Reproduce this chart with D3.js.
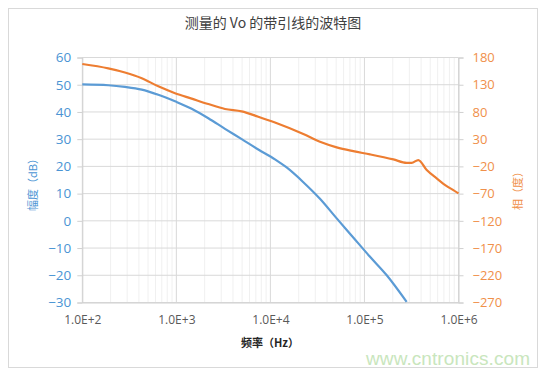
<!DOCTYPE html>
<html><head><meta charset="utf-8">
<script src="https://cdn.jsdelivr.net/npm/d3@7"></script>
<style>body{margin:0;background:#fff}svg{display:block}</style>
</head><body>
<svg id="c" width="550" height="375"></svg>
<script>
const title = "测量的 Vo 的带引线的波特图";
const xTitle = "频率（Hz）";
const yLeftTitle = "幅度（dB）";
const yRightTitle = "相（度）";
const xTickValues = [1e2, 1e3, 1e4, 1e5, 1e6];
const xTickLabels = ["1.0E+2", "1.0E+3", "1.0E+4", "1.0E+5", "1.0E+6"];
const magTicks = [60, 50, 40, 30, 20, 10, 0, -10, -20, -30];
const phaseTicks = [180, 130, 80, 30, -20, -70, -120, -170, -220, -270];

const magFreq = [100, 189, 284, 429, 643, 968, 1455, 2188, 3289, 4955, 7430, 11190, 14890, 22390, 33650, 50700, 76000, 114600, 172600, 281200];
const magDb   = [50.1, 49.8, 49.2, 48.2, 46.3, 43.9, 41.2, 37.7, 33.8, 30.0, 26.2, 22.6, 19.6, 14.2, 8.1, 0.9, -6.1, -13.2, -20.0, -29.8];

const phFreq = [100, 189, 284, 429, 643, 968, 1455, 2188, 3289, 4955, 7430, 11190, 22390, 33650, 50700, 76000, 114600, 202800, 281200, 317700, 373900, 459300, 586400, 749300, 881600, 1000000];
const phDeg  = [168, 160, 152.5, 142, 127, 114.5, 104.5, 94.5, 85.5, 81, 71.2, 60.5, 39.4, 25.2, 15, 8, 2, -7.2, -13.4, -13.4, -8.4, -26.8, -42, -56.2, -63.5, -69.7];

const blue = "#5B9BD5", orange = "#ED7D31";
const svg = d3.select("#c");
const L = 82.3, R = 458.5, T = 57.5, B = 302.5;
const x = d3.scaleLog().domain([1e2, 1e6]).range([L, R]);
const yM = d3.scaleLinear().domain([-30, 60]).range([B, T]);
const yP = d3.scaleLinear().domain([-270, 180]).range([B, T]);

svg.append("rect").attr("x", 8.5).attr("y", 8.5).attr("width", 529).attr("height", 359)
  .attr("fill", "#fff").attr("stroke", "#d9d9d9");

// minor vertical grid
const minor = [];
for (let d = 2; d < 6; d++) for (let m = 2; m <= 9; m++) minor.push(m * Math.pow(10, d));
svg.append("g").selectAll("line").data(minor).join("line")
  .attr("x1", d => x(d)).attr("x2", d => x(d)).attr("y1", T).attr("y2", B)
  .attr("stroke", "#f0f0f0").attr("stroke-width", 1);
// major vertical grid
svg.append("g").selectAll("line").data(xTickValues).join("line")
  .attr("x1", d => x(d)).attr("x2", d => x(d)).attr("y1", T).attr("y2", B)
  .attr("stroke", "#d9d9d9").attr("stroke-width", 1);
// horizontal grid
svg.append("g").selectAll("line").data(magTicks).join("line")
  .attr("x1", L).attr("x2", R).attr("y1", d => yM(d)).attr("y2", d => yM(d))
  .attr("stroke", "#d9d9d9").attr("stroke-width", 1);

// axes
const axL = d3.axisLeft(yM).tickValues(magTicks).tickSize(5).tickPadding(6);
const gL = svg.append("g").attr("transform", `translate(${L},0)`).call(axL);
gL.selectAll("path,line").attr("stroke", "#d0d0d0");
gL.selectAll("text").attr("fill", "#4A94D4").style("font", "13.5px 'Open Sans'");

const axR = d3.axisRight(yP).tickValues(phaseTicks).tickSize(5).tickPadding(9);
const gR = svg.append("g").attr("transform", `translate(${R},0)`).call(axR);
gR.selectAll("path,line").attr("stroke", "#d0d0d0");
gR.selectAll("text").attr("fill", "#F0904A").style("font", "13px 'Open Sans'");

const axB = d3.axisBottom(x).tickValues(xTickValues).tickFormat((d, i) => xTickLabels[i]).tickSize(0).tickPadding(13);
const gB = svg.append("g").attr("transform", `translate(0,${B})`).call(axB);
gB.select("path").attr("stroke", "#d0d0d0");
gB.selectAll("text").attr("fill", "#595959").style("font", "12px 'Open Sans'");

// lines
const lineM = d3.line().x((d, i) => x(magFreq[i])).y(d => yM(d)).curve(d3.curveMonotoneX);
svg.append("path").datum(magDb).attr("d", lineM).attr("fill", "none")
  .attr("stroke", blue).attr("stroke-width", 2.2).attr("stroke-linejoin", "round");
const lineP = d3.line().x((d, i) => x(phFreq[i])).y(d => yP(d)).curve(d3.curveMonotoneX);
svg.append("path").datum(phDeg).attr("d", lineP).attr("fill", "none")
  .attr("stroke", orange).attr("stroke-width", 2.2).attr("stroke-linejoin", "round");

// titles
svg.append("text").attr("x", 273).attr("y", 28).attr("text-anchor", "middle")
  .attr("fill", "#404040").style("font", "14px 'Noto Sans CJK SC'").text(title);
svg.append("text").attr("x", 270).attr("y", 347).attr("text-anchor", "middle")
  .attr("fill", "#262626").style("font", "bold 11px 'Noto Sans CJK SC'").text(xTitle);
svg.append("text").attr("transform", "translate(37,182) rotate(-90)").attr("text-anchor", "middle")
  .attr("fill", "#4A94D4").style("font", "11px 'Noto Sans CJK SC'").text(yLeftTitle);
svg.append("text").attr("transform", "translate(522,188) rotate(-90)").attr("text-anchor", "middle")
  .attr("fill", "#F0904A").style("font", "11px 'Noto Sans CJK SC'").text(yRightTitle);

// watermark
svg.append("text").attr("x", 366).attr("y", 365).attr("textLength", 164)
  .attr("fill", "#c9e6bd").style("font", "19px 'Liberation Sans'").text("www.cntronics.com");
</script>
</body></html>
